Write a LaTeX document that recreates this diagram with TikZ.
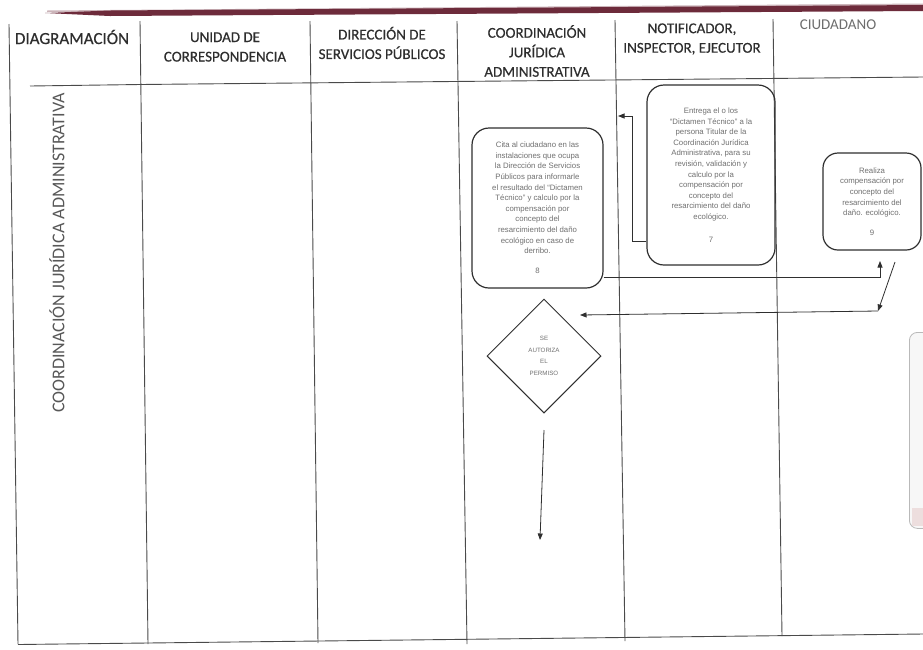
\documentclass[tikz,border=0pt]{standalone}
\usepackage{fontspec}
\setmainfont{Carlito}
\newfontfamily\headfont{Carlito}[FakeBold=0.5]
\newfontfamily\boxfont{Liberation Sans}
\usetikzlibrary{shapes.geometric,arrows.meta}

\definecolor{barmaroon}{HTML}{6D2B3B}
\definecolor{gridline}{HTML}{4A4A4A}
\definecolor{ink}{HTML}{2F2F2F}
\definecolor{boxtext}{HTML}{707070}
\definecolor{headtext}{HTML}{2E2E2E}
\definecolor{lanetext}{HTML}{585858}

\tikzset{
  grid/.style={draw=gridline, line width=0.9pt},
  headlabel/.style={align=center, text=headtext, inner sep=0pt,
    font=\headfont\fontsize{15}{19.5}\selectfont},
  procbox/.style={draw=ink, line width=1.2pt, rounded corners=17pt,
    align=center, text=boxtext, inner sep=0pt,
    font=\boxfont\fontsize{7.8}{10.6}\selectfont},
  decision/.style={diamond, draw=ink, line width=1pt, aspect=1,
    minimum width=114pt, minimum height=114pt, inner sep=0pt,
    align=center, text=boxtext,
    font=\boxfont\fontsize{6.2}{11.5}\selectfont},
  conn/.style={draw=ink, line width=0.8pt},
  tip/.style={-{Triangle[length=6.5pt,width=5pt]}},
}

\begin{document}
\begin{tikzpicture}[x=1pt,y=-1pt]
\useasboundingbox (0,0) rectangle (923,649);
\fill[white] (0,0) rectangle (923,649);

% maroon rule across the top of the page
\fill[barmaroon!35] (47,10.5) -- (923,3.5) -- (923,6) -- (47,12) -- cycle;
\fill[barmaroon] (45,13) -- (110,10.5) -- (923,5) -- (923,11) -- (110,16) -- cycle;

% table frame: outer border, column dividers, header rule, bottom rule
\draw[grid] (9,24) -- (18,644);
\draw[grid] (140,21) -- (148,644);
\draw[grid] (310,21) -- (318,643);
\draw[grid] (457,21) -- (467,644);
\draw[grid] (615,20) -- (625,641);
\draw[grid] (773,19) -- (782,636);
\draw[grid] (30,86) -- (140,84.5) -- (923,77);
\draw[grid] (18,644.5) -- (923,634);

% column headings
\node[headlabel, font=\headfont\fontsize{17}{19.5}\selectfont] (hdiag) at (72,37) {DIAGRAMACIÓN};
\node[headlabel] (hunidad) at (225,47) {UNIDAD DE\\CORRESPONDENCIA};
\node[headlabel] (hdir) at (382,43) {DIRECCIÓN DE\\SERVICIOS PÚBLICOS};
\node[headlabel] (hcoord) at (537,51) {COORDINACIÓN\\JURÍDICA\\ADMINISTRATIVA};
\node[headlabel] (hnotif) at (692,39) {NOTIFICADOR,\\INSPECTOR, EJECUTOR};
\node[headlabel, font=\fontsize{15}{19.5}\selectfont, text=headtext!70] (hciud) at (838,25) {CIUDADANO};

% lane title
\node[rotate=90, text=lanetext, inner sep=0pt,
      font=\fontsize{18}{20}\selectfont] (lane) at (57,253)
  {COORDINACIÓN JURÍDICA ADMINISTRATIVA};

% process steps
\node[procbox, minimum width=131pt, minimum height=160pt] (b8) at (537.5,208)
  {Cita al ciudadano en las\\instalaciones que ocupa\\la Dirección de Servicios\\Públicos para informarle\\el resultado del “Dictamen\\Técnico” y calculo por la\\compensación por\\concepto del\\resarcimiento del daño\\ecológico en caso de\\derribo.\\[9.5pt]8};
\node[procbox, minimum width=128pt, minimum height=180pt] (b7) at (711,175)
  {Entrega el o los\\“Dictamen Técnico” a la\\persona Titular de la\\Coordinación Jurídica\\Administrativa, para su\\revisión, validación y\\calculo por la\\compensación por\\concepto del\\resarcimiento del daño\\ecológico.\\[12pt]7};
\node[procbox, rounded corners=15pt, minimum width=98pt, minimum height=97pt] (b9) at (872,201.5)
  {Realiza\\compensación por\\concepto del\\resarcimiento del\\daño. ecológico.\\[9pt]9};
\node[decision] (dec) at (544,356) {SE\\AUTORIZA\\EL\\PERMISO};

% next step, partly outside the sheet
\node[draw=gray!55, line width=0.8pt, rounded corners=8pt, fill=gray!6,
      minimum width=40pt, minimum height=196pt, anchor=north west] (bnext) at (909,332) {};
\fill[red!30!gray!20] (912,508) rectangle (923,526);

% connectors
\coordinate (k7) at (632,241);
\coordinate (e7) at (618,116);
\draw[conn, tip] (b7.west |- k7) -- (k7) |- (e7);

\coordinate (k8) at (603,277);
\coordinate (e8) at (880,261);
\draw[conn, tip] (b8.east |- k8) -| (e8);

\coordinate (k9a) at (895,262);
\coordinate (k9b) at (878,311);
\coordinate (e9) at (580,315);
\draw[conn, tip] (k9a) -- (k9b);
\draw[conn, tip] (k9b) -- (e9);

\coordinate (k10) at (542,430);
\coordinate (e10) at (540,540);
\draw[conn, tip] (dec.south |- k10) -- (e10);
\end{tikzpicture}
\end{document}
